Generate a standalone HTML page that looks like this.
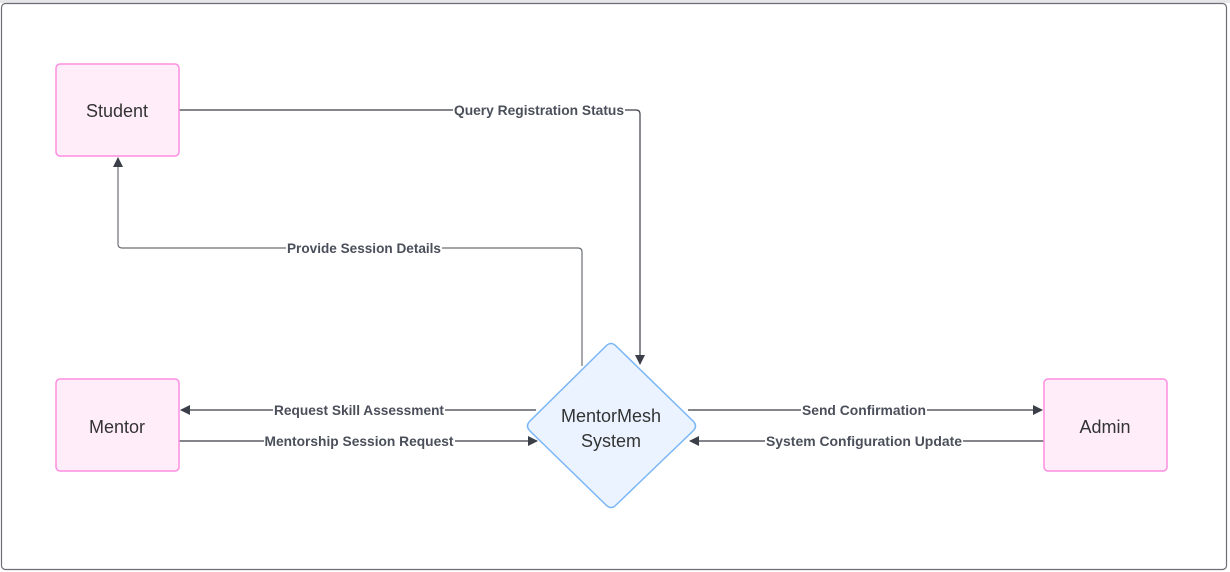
<!DOCTYPE html>
<html><head><style>
body{margin:0;width:1230px;height:572px;background:#fff;overflow:hidden;font-family:"Liberation Sans",sans-serif}
</style></head><body>
<svg width="1230" height="572" xmlns="http://www.w3.org/2000/svg" style="position:absolute;left:0;top:0">
<defs>
<marker id="a" markerWidth="10" markerHeight="10" refX="9" refY="5" orient="auto" markerUnits="userSpaceOnUse">
<path d="M0,0 L10,5 L0,10 Z" fill="#3b3f47"/></marker>
</defs>
<rect x="0" y="0" width="1230" height="3" fill="#e6e6e8"/>
<rect x="1.5" y="3.5" width="1225" height="566" rx="4" fill="#fff" stroke="#6b6e75" stroke-width="1.2"/>
<g stroke="#3b3f47" stroke-width="1.2" fill="none">
<path d="M179,110 H636 Q640,110 640,114 V364" marker-end="url(#a)"/>
<path d="M582,366 V252 Q582,248 578,248 H122 Q118,248 118,244 V158" marker-end="url(#a)" stroke="#6b6e75"/>
<path d="M536,410 H181" marker-end="url(#a)"/>
<path d="M179,441 H537" marker-end="url(#a)"/>
<path d="M688,410 H1042" marker-end="url(#a)"/>
<path d="M1044,441 H690" marker-end="url(#a)"/>
</g>
<g font-family="Liberation Sans,sans-serif" font-size="13.8" font-weight="bold" fill="#4a4f5a" text-anchor="middle">
<rect x="453" y="102" width="172" height="16" fill="#fff"/><text x="539" y="115" textLength="170" lengthAdjust="spacingAndGlyphs">Query Registration Status</text>
<rect x="286" y="240" width="156" height="16" fill="#fff"/><text x="364" y="253" textLength="154" lengthAdjust="spacingAndGlyphs">Provide Session Details</text>
<rect x="273" y="402" width="172" height="16" fill="#fff"/><text x="359" y="415" textLength="170" lengthAdjust="spacingAndGlyphs">Request Skill Assessment</text>
<rect x="264" y="433" width="191" height="16" fill="#fff"/><text x="359" y="446" textLength="189" lengthAdjust="spacingAndGlyphs">Mentorship Session Request</text>
<rect x="801" y="402" width="126" height="16" fill="#fff"/><text x="864" y="415" textLength="124" lengthAdjust="spacingAndGlyphs">Send Confirmation</text>
<rect x="765" y="433" width="198" height="16" fill="#fff"/><text x="864" y="446" textLength="196" lengthAdjust="spacingAndGlyphs">System Configuration Update</text>
</g>
<g fill="#ffeefa" stroke="#ff8ee0" stroke-width="1.5">
<rect x="56" y="64" width="123" height="92" rx="4"/>
<rect x="56" y="379" width="123" height="92" rx="4"/>
<rect x="1044" y="379" width="123" height="92" rx="4"/>
</g>
<path d="M606,346 Q611,341 616,346 L693,421 Q698,426 693,431 L616,505 Q611,510 606,505 L530,431 Q525,426 530,421 Z" fill="#eaf3ff" stroke="#7ab6f5" stroke-width="1.5"/>
<g font-family="Liberation Sans,sans-serif" font-size="18" fill="#333" text-anchor="middle">
<text x="117" y="117">Student</text>
<text x="117" y="433">Mentor</text>
<text x="1105" y="433">Admin</text>
<text x="611" y="422">MentorMesh</text>
<text x="611" y="447">System</text>
</g>
</svg>
</body></html>
